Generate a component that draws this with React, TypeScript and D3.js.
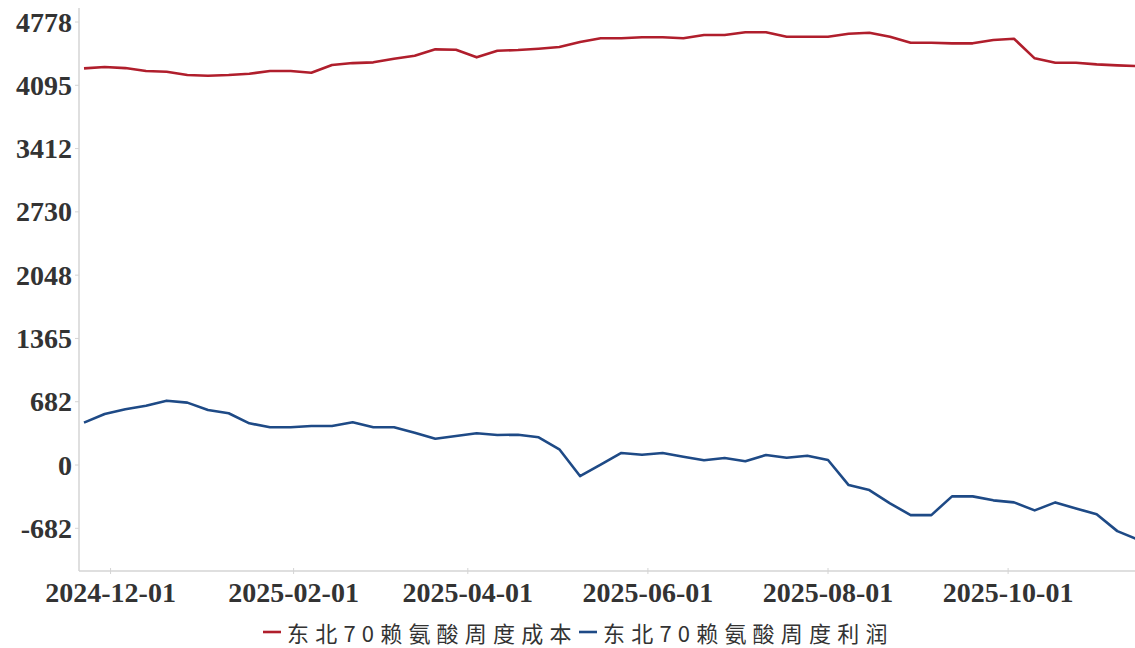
import React from "react";
import * as d3 from "d3";

const dates: string[] = [
  "2024-11-22", "2024-11-29", "2024-12-06", "2024-12-13", "2024-12-20", "2024-12-27",
  "2025-01-03", "2025-01-10", "2025-01-17", "2025-01-24", "2025-01-31", "2025-02-07",
  "2025-02-14", "2025-02-21", "2025-02-28", "2025-03-07", "2025-03-14", "2025-03-21",
  "2025-03-28", "2025-04-04", "2025-04-11", "2025-04-18", "2025-04-25", "2025-05-02",
  "2025-05-09", "2025-05-16", "2025-05-23", "2025-05-30", "2025-06-06", "2025-06-13",
  "2025-06-20", "2025-06-27", "2025-07-04", "2025-07-11", "2025-07-18", "2025-07-25",
  "2025-08-01", "2025-08-08", "2025-08-15", "2025-08-22", "2025-08-29", "2025-09-05",
  "2025-09-12", "2025-09-19", "2025-09-26", "2025-10-03", "2025-10-10", "2025-10-17",
  "2025-10-24", "2025-10-31", "2025-11-07", "2025-11-14",
];

const costValues: number[] = [
  4278, 4292, 4281, 4249, 4241, 4206, 4198, 4206, 4220, 4249, 4249, 4230,
  4314, 4335, 4343, 4382, 4414, 4483, 4479, 4397, 4468, 4476, 4490, 4508,
  4562, 4602, 4602, 4613, 4613, 4602, 4638, 4638, 4667, 4667, 4619, 4619,
  4619, 4652, 4662, 4619, 4554, 4554, 4548, 4548, 4584, 4598, 4386, 4338,
  4338, 4321, 4310, 4302,
];

const profitValues: number[] = [
  457, 551, 602, 640, 694, 673, 594, 558, 450, 407, 407, 421,
  421, 461, 407, 407, 349, 284, 313, 342, 324, 327, 299, 170,
  -119, 5, 130, 111, 130, 90, 51, 76, 40, 108, 79, 100,
  54, -216, -270, -414, -540, -540, -338, -338, -381, -403, -489, -403,
  -468, -532, -713, -805,
];

const seriesNames: string[] = ["东北70赖氨酸周度成本", "东北70赖氨酸周度利润"];
const seriesColors: string[] = ["#B01E2C", "#1E4A86"];

const yTickValues: number[] = [-682.571, 0, 682.571, 1365.143, 2047.714, 2730.286, 3412.857, 4095.429, 4778];
const yTickLabels: string[] = ["-682", "0", "682", "1365", "2048", "2730", "3412", "4095", "4778"];
const xTickLabels: string[] = ["2024-12-01", "2025-02-01", "2025-04-01", "2025-06-01", "2025-08-01", "2025-10-01"];

const W = 1135;
const H = 648;
const plotLeft = 79;
const plotRight = 1135;
const plotTop = 8;
const plotBottom = 571;

const parse = d3.timeParse("%Y-%m-%d");

export default function App() {
  const dateObjs = dates.map((d) => parse(d) as Date);
  const x = d3
    .scaleTime()
    .domain([parse("2024-11-22") as Date, parse("2025-11-14") as Date])
    .range([84, 1138]);
  const y = d3.scaleLinear().domain([-1143, 4929]).range([plotBottom, plotTop]);

  const line = d3
    .line<number>()
    .x((_, i) => x(dateObjs[i]))
    .y((v) => y(v));

  const axisColor = "#d4d4d4";
  const textColor = "#333333";
  const tickFont = "'Liberation Serif', 'Times New Roman', serif";
  const cjkFont = "'Noto Sans CJK SC', 'Noto Sans', sans-serif";

  return (
    <svg
      width={W}
      height={H}
      style={{ position: "absolute", left: 0, top: 0, background: "#fff" }}
    >
      <defs>
        <clipPath id="plotClip">
          <rect x={plotLeft} y={0} width={plotRight - plotLeft} height={plotBottom + 2} />
        </clipPath>
      </defs>
      <rect x={0} y={0} width={W} height={H} fill="#fff" />

      <line x1={plotLeft} x2={plotLeft} y1={plotTop} y2={plotBottom} stroke={axisColor} strokeWidth={1.5} />
      <line x1={plotLeft} x2={plotRight} y1={plotBottom} y2={plotBottom} stroke={axisColor} strokeWidth={1.5} />

      {yTickValues.map((v, i) => (
        <g key={"yt" + i}>
          <line x1={plotLeft - 4} x2={plotLeft} y1={y(v)} y2={y(v)} stroke={axisColor} strokeWidth={1} />
          <text
            x={72}
            y={y(v)}
            textAnchor="end"
            dominantBaseline="central"
            fontFamily={tickFont}
            fontWeight="bold"
            fontSize={28}
            fill={textColor}
          >
            {yTickLabels[i]}
          </text>
        </g>
      ))}

      {xTickLabels.map((t, i) => {
        const px = x(parse(t) as Date);
        return (
          <g key={"xt" + i}>
            <line x1={px} x2={px} y1={plotBottom - 3} y2={plotBottom + 3} stroke={axisColor} strokeWidth={1} />
            <text
              x={px}
              y={592}
              textAnchor="middle"
              dominantBaseline="central"
              fontFamily={tickFont}
              fontWeight="bold"
              fontSize={28}
              fill={textColor}
            >
              {t}
            </text>
          </g>
        );
      })}

      <g clipPath="url(#plotClip)">
        <path d={line(costValues) || ""} fill="none" stroke={seriesColors[0]} strokeWidth={2.6} strokeLinejoin="round" />
        <path d={line(profitValues) || ""} fill="none" stroke={seriesColors[1]} strokeWidth={2.6} strokeLinejoin="round" />
      </g>

      {[0, 1].map((i) => {
        const lx = i === 0 ? 263 : 579;
        return (
          <g key={"lg" + i}>
            <line x1={lx} x2={lx + 18} y1={632} y2={632} stroke={seriesColors[i]} strokeWidth={2.6} />
            <text
              x={lx + 24}
              y={632}
              dominantBaseline="central"
              fontFamily={cjkFont}
              fontSize={22}
              letterSpacing={6.2}
              fill={textColor}
            >
              {seriesNames[i]}
            </text>
          </g>
        );
      })}
    </svg>
  );
}
